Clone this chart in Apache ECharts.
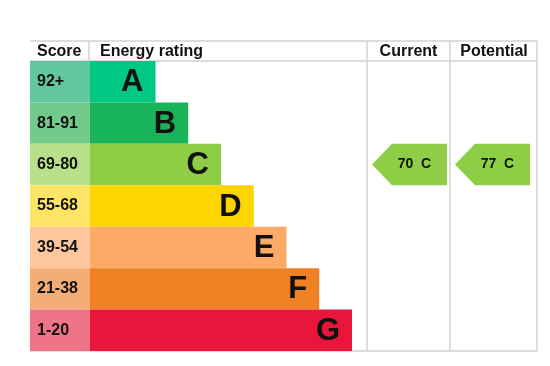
<!DOCTYPE html>
<html><head><meta charset="utf-8">
<script src="https://cdn.jsdelivr.net/npm/echarts@6/dist/echarts.min.js"></script>
<style>html,body{margin:0;padding:0;background:#fff}#c{width:550px;height:366px}</style>
</head><body><div id="c"></div>
<script>
// ---- data ----
const ratings = ['A','B','C','D','E','F','G'];
const scoreRanges = ['92+','81-91','69-80','55-68','39-54','21-38','1-20'];
const bandMins = [92,81,69,55,39,21,1];
const barLengths = [2,3,4,5,6,7,8];
const currentScore = 70;
const potentialScore = 77;
const headers = ['Score','Energy rating','Current','Potential'];
const barColors = ['#00c781','#19b459','#8dce46','#ffd500','#fcaa65','#ef8023','#e9153b'];
const scoreColors = ['#62c7a1','#72cb8a','#b8e08b','#ffe566','#fdc69b','#f4ad74','#f07487'];

function bandOf(score){ for(let i=0;i<bandMins.length;i++){ if(score>=bandMins[i]) return i; } return bandMins.length-1; }

const FONT = '"Liberation Sans", Arial, sans-serif';
const chart = echarts.init(document.getElementById('c'), null, {renderer:'canvas'});

const gridTop = 61, gridBottom = 15;
const grids = [
  {left:30, width:60, top:gridTop, bottom:gridBottom},
  {left:90, width:262, top:gridTop, bottom:gridBottom},
  {left:367, width:83, top:gridTop, bottom:gridBottom},
  {left:450, width:87, top:gridTop, bottom:gridBottom}
];
const xAxes = [
  {gridIndex:0, type:'value', min:0, max:1, show:false},
  {gridIndex:1, type:'value', min:0, max:8, show:false},
  {gridIndex:2, type:'value', min:0, max:1, show:false},
  {gridIndex:3, type:'value', min:0, max:1, show:false}
];
const yAxes = [0,1,2,3].map(i => ({gridIndex:i, type:'category', data:ratings, inverse:true, show:false}));

function arrowRender(score){
  return function(params, api){
    const cs = params.coordSys;
    const c = api.coord([0, api.value(1)]);
    const h = api.size([0,1])[1];
    const left = cs.x + 5, right = left + 75;
    const top = c[1] - h/2, bottom = c[1] + h/2;
    const shoulder = left + 20;
    return {
      type:'group',
      children:[
        {type:'polygon', shape:{points:[[left,c[1]],[shoulder,top],[right,top],[right,bottom],[shoulder,bottom]]},
         style:{fill:barColors[api.value(1)]}},
        {type:'text', style:{text: score + '  ' + ratings[api.value(1)], x:(left+right)/2+5, y:c[1],
          align:'center', verticalAlign:'middle', font:'bold 14px '+FONT, fill:'#111'}}
      ]
    };
  };
}

const lineStyle = {stroke:'#d2d2d2', lineWidth:1.5};
const hdr = (t, x, align) => ({type:'text', x:x, y:52, style:{text:t, font:'bold 16px '+FONT, fill:'#111', align:align, verticalAlign:'middle'}});
const graphics = [
  {type:'line', shape:{x1:30,y1:41,x2:537,y2:41}, style:lineStyle, z:0},
  {type:'line', shape:{x1:30,y1:61,x2:537,y2:61}, style:lineStyle, z:0},
  {type:'line', shape:{x1:30,y1:351,x2:537,y2:351}, style:lineStyle, z:0},
  {type:'line', shape:{x1:89,y1:41,x2:89,y2:61}, style:lineStyle, z:0},
  {type:'line', shape:{x1:367,y1:41,x2:367,y2:351}, style:lineStyle, z:0},
  {type:'line', shape:{x1:450,y1:41,x2:450,y2:351}, style:lineStyle, z:0},
  {type:'line', shape:{x1:537,y1:41,x2:537,y2:351}, style:lineStyle, z:0},
  hdr(headers[0], 37, 'left'),
  hdr(headers[1], 100, 'left'),
  hdr(headers[2], 408.5, 'center'),
  hdr(headers[3], 494, 'center')
];

chart.setOption({
  animation:false,
  grid:grids, xAxis:xAxes, yAxis:yAxes,
  graphic:graphics,
  series:[
    {type:'bar', xAxisIndex:0, yAxisIndex:0, barWidth:'100%', z:2,
     data: scoreRanges.map((s,i)=>({value:1, itemStyle:{color:scoreColors[i]}})),
     label:{show:true, position:'insideLeft', distance:7, formatter:p=>scoreRanges[p.dataIndex],
       fontFamily:FONT, fontWeight:'bold', fontSize:16, color:'#111'}},
    {type:'bar', xAxisIndex:1, yAxisIndex:1, barWidth:'100%', z:2,
     data: barLengths.map((v,i)=>({value:v, itemStyle:{color:barColors[i]}})),
     label:{show:true, position:'insideRight', distance:12, offset:[0,1], formatter:p=>ratings[p.dataIndex],
       fontFamily:FONT, fontWeight:'bold', fontSize:31, color:'#111'}},
    {type:'custom', xAxisIndex:2, yAxisIndex:2, renderItem:arrowRender(currentScore), z:3,
     data:[[0, bandOf(currentScore)]]},
    {type:'custom', xAxisIndex:3, yAxisIndex:3, renderItem:arrowRender(potentialScore), z:3,
     data:[[0, bandOf(potentialScore)]]}
  ]
});
</script></body></html>
